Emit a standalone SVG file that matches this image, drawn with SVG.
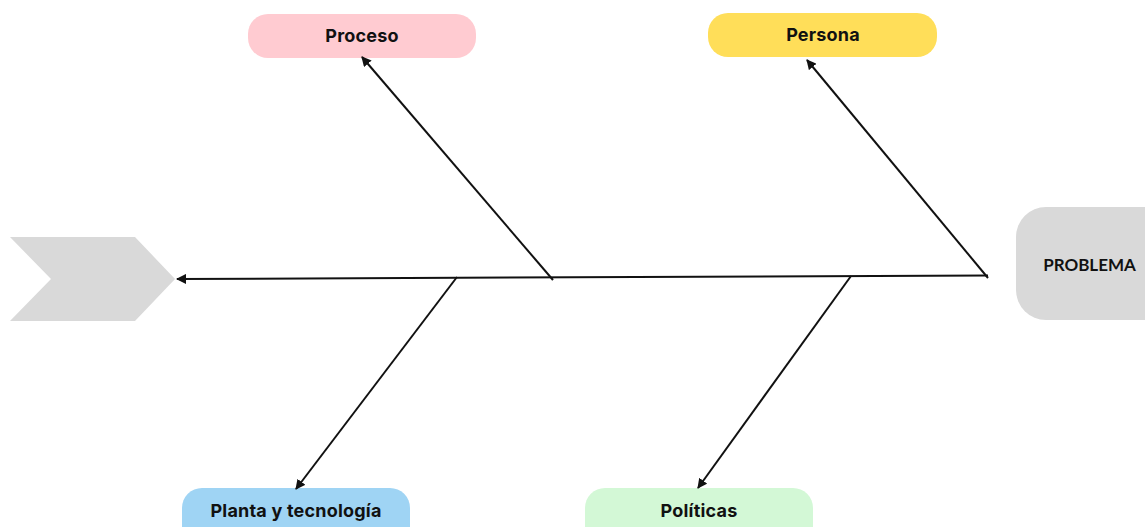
<svg xmlns="http://www.w3.org/2000/svg" width="1145" height="527" viewBox="0 0 1145 527">
<style>
.lbl{font-family:Inter,"Noto Sans","Liberation Sans",sans-serif;font-weight:700;font-size:18px;letter-spacing:0.2px;fill:#111;text-anchor:middle;dominant-baseline:central}
.prob{font-family:Lato,"Liberation Sans",sans-serif;font-weight:700;font-size:17px;fill:#111;text-anchor:middle;dominant-baseline:central}
.bone{stroke:#111;stroke-width:2;fill:none}
</style>
<defs>
<marker id="ah" viewBox="0 0 10 10" refX="9" refY="5" markerWidth="5" markerHeight="5" orient="auto" markerUnits="strokeWidth">
<path d="M0,0 L10,5 L0,10 z" fill="#111"/>
</marker>
</defs>
<rect width="1145" height="527" fill="#fff"/>
<g id="head-chevron">
<polygon points="10,237 135,237 175,279 135,321 10,321 51,279" fill="#d9d9d9"/>
</g>
<g id="problema">
<rect x="1016" y="207" width="160" height="113" rx="30" fill="#d9d9d9"/>
<text class="prob" x="1089.5" y="264">PROBLEMA</text>
</g>
<g id="proceso">
<rect x="248" y="14" width="228" height="44" rx="20" fill="#ffcbd1"/>
<text class="lbl" x="362" y="35">Proceso</text>
</g>
<g id="persona">
<rect x="708" y="13" width="229" height="44" rx="20" fill="#ffde59"/>
<text class="lbl" x="823" y="34">Persona</text>
</g>
<g id="planta">
<rect x="182" y="488" width="228" height="60" rx="20" fill="#9fd4f4"/>
<text class="lbl" x="296" y="510">Planta y tecnología</text>
</g>
<g id="politicas">
<rect x="585" y="488" width="228" height="60" rx="20" fill="#d3f8d6"/>
<text class="lbl" x="699" y="510">Políticas</text>
</g>
<g id="connectors">
<line class="bone" x1="988" y1="275.5" x2="177" y2="279" marker-end="url(#ah)"/>
<line class="bone" x1="553" y1="280" x2="362" y2="57" marker-end="url(#ah)"/>
<line class="bone" x1="988" y1="278" x2="807" y2="60" marker-end="url(#ah)"/>
<line class="bone" x1="457" y1="277" x2="296" y2="489" marker-end="url(#ah)"/>
<line class="bone" x1="851" y1="276" x2="698" y2="488" marker-end="url(#ah)"/>
</g>
</svg>
